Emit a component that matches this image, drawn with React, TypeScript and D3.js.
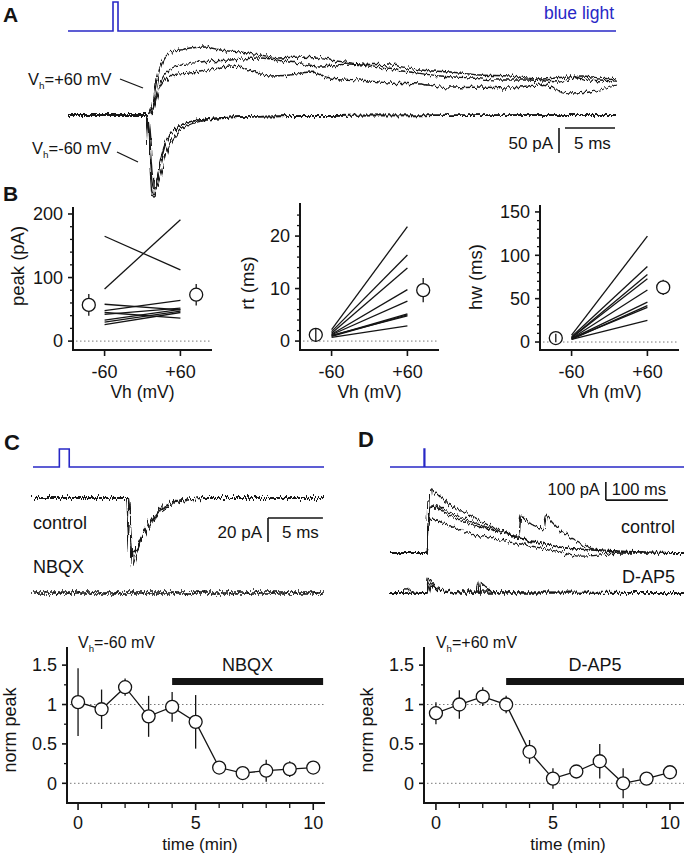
import React from 'react';
import * as d3 from 'd3';

const FONT = "'Liberation Sans', Arial, Helvetica, sans-serif";
const BLUE = '#2828c6';
const INK = '#141414';

// ================= DATA =================
// ---- Panel A: light pulse (ms, on/off) and EPSCs (pA)
const lightA_t = [0, 4.5, 5.0, 54.8];
const lightA_on = [0, 1, 0, 0];

const aNeg1_t = [0, 7.8, 8.0, 8.2, 8.4, 8.55, 8.8, 9.2, 9.6, 10, 10.5, 11, 12, 13.5, 16, 20, 30, 54.8];
const aNeg1_i = [0, 0, -30, -100, -160, -164, -140, -95, -64, -45, -32, -24, -15, -9, -5, -3, -1, 0];
const aNeg2_t = [0, 7.9, 8.1, 8.3, 8.5, 8.7, 9.0, 9.4, 9.8, 10.2, 10.7, 11.2, 12.2, 13.7, 16, 20, 30, 54.8];
const aNeg2_i = [0, 0, -25, -85, -135, -150, -138, -110, -80, -58, -42, -30, -19, -11, -6, -3, -1, 0];
const aNeg3_t = [0, 7.85, 8.05, 8.25, 8.45, 8.6, 8.85, 9.3, 9.7, 10.1, 10.6, 11.1, 12.1, 13.6, 16, 20, 30, 54.8];
const aNeg3_i = [0, 0, -28, -95, -150, -158, -135, -92, -62, -44, -31, -23, -14, -9, -5, -3, -1, 0];

const aPos1_t = [0, 7.9, 8.4, 8.9, 9.5, 10.2, 11.2, 12.2, 13.7, 15.2, 17.2, 19.2, 21.2, 23.2, 26.2, 29.2, 32.2, 35.2, 38.2, 41.2, 44.2, 47.2, 50.2, 52.2, 54.8];
const aPos1_i = [0, 0, 14, 70, 110, 126, 130, 134, 136, 130, 126, 120, 114, 116, 110, 102, 100, 90, 86, 80, 78, 72, 76, 70, 66];
const aPos2_t = [0, 7.9, 8.4, 8.9, 9.5, 10.5, 13.2, 16.2, 19.2, 22.2, 25.2, 28.2, 31.2, 34.2, 37.2, 40.2, 43.2, 46.2, 49.2, 51.2, 53.2, 54.8];
const aPos2_i = [0, 0, 6, 44, 76, 94, 106, 110, 114, 106, 96, 102, 94, 86, 78, 74, 70, 70, 66, 78, 74, 70];
const aPos3_t = [0, 7.9, 8.4, 9.2, 10.5, 13.2, 16.2, 18.2, 20.2, 22.2, 24.2, 26.2, 29.2, 32.2, 35.2, 38.2, 41.2, 44.2, 47.2, 50.2, 52.2, 54.8];
const aPos3_i = [0, 0, 4, 56, 80, 86, 98, 90, 78, 80, 86, 74, 70, 64, 62, 54, 56, 54, 60, 44, 46, 58];

const scaleA_ms = 5;
const scaleA_pA = 50;

// ---- Panel B: paired values at Vh -60 / +60 mV
const bVh = [-60, 60];
const bVhLabels = ['-60', '+60'];
const peakNeg60 = [165, 82, 58, 48, 45, 42, 33, 30, 26];
const peakPos60 = [112, 191, 49, 64, 36, 52, 50, 47, 45];
const peakMean = [57, 73];
const peakSem = [17, 17];
const rtNeg60 = [2.2, 1.8, 1.5, 1.3, 1.2, 1.0, 0.9, 1.1, 0.7];
const rtPos60 = [21.8, 16.4, 13.9, 9.8, 7.6, 5.2, 5.0, 4.8, 2.9];
const rtMean = [1.2, 9.7];
const rtSem = [1.3, 2.3];
const hwNeg60 = [8, 6, 5, 5, 4, 4, 3, 4, 3];
const hwPos60 = [122, 87, 78, 73, 60, 46, 42, 40, 25];
const hwMean = [4.6, 63];
const hwSem = [5, 8.7];
const meanVhOffset = [-85, 85];

// ---- Panel C: traces (ms, pA)
const lightC_t = [0, 2.4, 3.3, 26.5];
const lightC_on = [0, 1, 0, 0];
const cCtrl1_t = [0, 8.6, 8.8, 9.0, 9.2, 9.5, 10.0, 10.6, 11.2, 12.1, 13.0, 14.0, 16, 26.5];
const cCtrl1_i = [0, 0, -35, -57, -52, -44, -33, -24, -15, -8, -4, -2, 0, 0];
const cCtrl2_t = [0, 8.65, 8.85, 9.05, 9.3, 9.6, 10.1, 10.7, 11.3, 12.2, 13.1, 14.1, 16, 26.5];
const cCtrl2_i = [0, 0, -30, -50, -48, -40, -30, -20, -12, -6, -3, -1, 0, 0];
const cCtrl3_t = [0, 8.7, 8.9, 9.1, 9.35, 9.7, 10.2, 10.8, 11.4, 12.3, 13.2, 14.2, 16, 26.5];
const cCtrl3_i = [0, 0, -25, -45, -44, -38, -28, -18, -10, -5, -2, -1, 0, 0];
const cNbqx_t = [0, 26.5];
const cNbqx_i = [0, 0];
const scaleC_ms = 5;
const scaleC_pA = 20;

// ---- Panel D: traces (ms, pA)
const lightD_t = [0, 55, 56, 474];
const lightD_on = [0, 1, 0, 0];
const dCtrl1_t = [0, 60, 63, 66, 81, 111, 137, 165, 194, 218, 250, 273, 326, 371, 474];
const dCtrl1_i = [0, 0, 294, 350, 311, 239, 194, 144, 106, 72, 50, 33, 17, 6, 0];
const dCtrl2_t = [0, 60, 63, 68, 89, 113, 145, 177, 210, 242, 274, 323, 474];
const dCtrl2_i = [0, 0, 239, 267, 239, 200, 156, 117, 83, 56, 33, 17, 0];
const dCtrl3_t = [0, 60, 63, 68, 89, 113, 145, 177, 208, 211, 218, 234, 248, 252, 261, 274, 289, 310, 339, 474];
const dCtrl3_i = [0, 0, 228, 261, 222, 183, 144, 117, 94, 211, 183, 150, 128, 206, 172, 128, 89, 44, 17, 0];
const dCtrl4_t = [0, 60, 63, 68, 89, 113, 145, 177, 210, 242, 274, 306, 339, 371, 474];
const dCtrl4_i = [0, 0, 156, 189, 161, 128, 94, 72, 50, 28, 6, -17, -11, 0, 0];
const dAp1_t = [0, 23, 24, 35, 60, 61, 68, 81, 105, 474];
const dAp1_i = [0, 0, 33, 6, 0, 83, 56, 28, 6, 0];
const dAp2_t = [0, 60, 61, 73, 97, 142, 144, 153, 169, 474];
const dAp2_i = [0, 0, 56, 33, 6, 0, 56, 33, 6, 0];
const dAp3_t = [0, 60, 63, 81, 113, 474];
const dAp3_i = [0, 0, 39, 17, 0, 0];
const scaleD_ms = 100;
const scaleD_pA = 100;

// ---- Time courses (min, normalized peak)
const timeMin = [0, 1, 2, 3, 4, 5, 6, 7, 8, 9, 10];
const nbqxMean = [1.03, 0.94, 1.22, 0.85, 0.97, 0.78, 0.2, 0.13, 0.16, 0.18, 0.2];
const nbqxErr = [0.43, 0.25, 0.11, 0.26, 0.19, 0.34, 0.05, 0.05, 0.14, 0.1, 0.05];
const dap5Mean = [0.89, 1.0, 1.1, 1.0, 0.4, 0.06, 0.15, 0.28, 0.0, 0.06, 0.14];
const dap5Err = [0.14, 0.18, 0.12, 0.11, 0.15, 0.13, 0.08, 0.22, 0.19, 0.08, 0.05];
const nbqxPeriod = [4, 10.42];
const dap5Period = [3, 10.7];
const normTicks = [0, 0.5, 1, 1.5];
const normTickLabels = ['0', '0.5', '1', '1.5'];
const normMinor = [0.25, 0.75, 1.25];
const timeTicks = [0, 5, 10];
const timeMinor = [1, 2, 3, 4, 6, 7, 8, 9];

// ================= HELPERS =================
function tracePath(ts: number[], vs: number[], xs: any, ys: any, curve: any = d3.curveMonotoneX) {
  return (
    d3
      .line<number>()
      .x((t) => xs(t))
      .y((_, i) => ys(vs[i]))
      .curve(curve)(ts) || ''
  );
}

function Vh({ x, y, sign, size = 16 }: { x: number; y: number; sign: string; size?: number }) {
  return (
    <text x={x} y={y} fontSize={size} fill={INK}>
      V
      <tspan fontSize={size * 0.6} dy={4}>
        h
      </tspan>
      <tspan dy={-4}>{'=' + sign + '60 mV'}</tspan>
    </text>
  );
}

function Traces({ list, xs, ys, filter, width = 1 }: any) {
  return (
    <g filter={filter} stroke={INK} fill="none" strokeWidth={width} strokeLinejoin="round">
      {list.map((tr: any, i: number) => (
        <path key={i} d={tracePath(tr[0], tr[1], xs, ys)} />
      ))}
    </g>
  );
}

// ================= PANEL A =================
function PanelA() {
  const x = d3.scaleLinear().domain([0, 54.8]).range([68, 616]);
  const y = d3.scaleLinear().domain([0, 100]).range([115, 65]);
  const yl = d3.scaleLinear().domain([0, 1]).range([31, 2]);
  const pos = [
    [aPos1_t, aPos1_i],
    [aPos2_t, aPos2_i],
    [aPos3_t, aPos3_i],
  ];
  const neg = [
    [aNeg1_t, aNeg1_i],
    [aNeg2_t, aNeg2_i],
    [aNeg3_t, aNeg3_i],
  ];
  const barT = 49.1;
  const barI = -26;
  return (
    <g>
      <text x={3} y={22} fontSize={21} fontWeight="bold" fill={INK}>A</text>
      <path d={tracePath(lightA_t, lightA_on, x, yl, d3.curveStepAfter)} stroke={BLUE} strokeWidth={1.6} fill="none" />
      <text x={614} y={19} fontSize={17.5} textAnchor="end" fill={BLUE}>blue light</text>
      <Traces list={pos} xs={x} ys={y} filter="url(#noiseA)" width={1.3} />
      <Traces list={neg} xs={x} ys={y} filter="url(#noiseA2)" width={1.3} />
      <Vh x={28} y={85} sign="+" size={16.5} />
      <Vh x={32} y={154} sign="-" size={16.5} />
      <line x1={120} y1={79} x2={143} y2={88} stroke={INK} strokeWidth={1.3} />
      <line x1={117} y1={152} x2={138} y2={162} stroke={INK} strokeWidth={1.3} />
      {/* scale bar */}
      <line x1={x(barT)} x2={x(barT)} y1={y(barI)} y2={y(barI - scaleA_pA)} stroke={INK} strokeWidth={1.6} />
      <line x1={x(barT + 0.6)} x2={x(barT + 0.6 + scaleA_ms)} y1={y(barI)} y2={y(barI)} stroke={INK} strokeWidth={1.6} />
      <text x={x(barT) - 6} y={149} fontSize={17} textAnchor="end" fill={INK}>{scaleA_pA} pA</text>
      <text x={x(barT) + 15} y={149} fontSize={17} fill={INK}>{scaleA_ms} ms</text>
    </g>
  );
}

// ================= PANEL B =================
function BPanel({ cfg }: any) {
  const x = d3.scaleLinear().domain([-110, 110]).range([cfg.left, cfg.left + 139]);
  const y = d3.scaleLinear().domain(cfg.yDomain).range([350, cfg.top]);
  const right = cfg.left + 139;
  return (
    <g>
      <line x1={cfg.left + 3} x2={right} y1={y(0)} y2={y(0)} stroke="#777" strokeWidth={1} strokeDasharray="1.5,2.5" />
      {cfg.neg.map((v: number, i: number) => (
        <line key={i} x1={x(bVh[0])} y1={y(v)} x2={x(bVh[1])} y2={y(cfg.pos[i])} stroke={INK} strokeWidth={1.3} />
      ))}
      {cfg.mean.map((m: number, i: number) => {
        const cx = x(meanVhOffset[i]);
        const bar = (
          <line x1={cx} x2={cx} y1={y(m - cfg.sem[i])} y2={y(m + cfg.sem[i])} stroke={INK} strokeWidth={1.3} />
        );
        return (
          <g key={i}>
            {!cfg.barOnTop[i] && bar}
            <circle cx={cx} cy={y(m)} r={6.5} fill="#fff" stroke={INK} strokeWidth={1.3} />
            {cfg.barOnTop[i] && bar}
          </g>
        );
      })}
      {/* axes */}
      <line x1={cfg.left} x2={cfg.left} y1={351} y2={cfg.top} stroke={INK} strokeWidth={2} />
      <line x1={cfg.left - 1} x2={right} y1={350} y2={350} stroke={INK} strokeWidth={2} />
      {cfg.major.map((v: number) => (
        <g key={'M' + v}>
          <line x1={cfg.left - 5} x2={cfg.left} y1={y(v)} y2={y(v)} stroke={INK} strokeWidth={1.6} />
          <text x={cfg.left - 10} y={y(v)} dy="0.35em" fontSize={18} textAnchor="end" fill={INK}>{v}</text>
        </g>
      ))}
      {cfg.minor.map((v: number) => (
        <line key={'m' + v} x1={cfg.left - 3} x2={cfg.left} y1={y(v)} y2={y(v)} stroke={INK} strokeWidth={1.3} />
      ))}
      {bVh.map((v, i) => (
        <g key={'x' + v}>
          <line x1={x(v)} x2={x(v)} y1={350} y2={356} stroke={INK} strokeWidth={1.6} />
          <text x={x(v)} y={378} fontSize={18} textAnchor="middle" fill={INK}>{bVhLabels[i]}</text>
        </g>
      ))}
      <text x={(x(-60) + x(60)) / 2} y={398} fontSize={17.5} textAnchor="middle" fill={INK}>Vh (mV)</text>
      <text
        transform={`translate(${cfg.labelX},${cfg.labelY}) rotate(-90)`}
        fontSize={18.5}
        textAnchor="middle"
        dy="0.35em"
        fill={INK}
      >
        {cfg.label}
      </text>
    </g>
  );
}

function PanelB() {
  const cfgs = [
    {
      left: 73, top: 207, yDomain: [-14, 211], major: [0, 100, 200], minor: [20, 40, 60, 80, 120, 140, 160, 180],
      neg: peakNeg60, pos: peakPos60, mean: peakMean, sem: peakSem, label: 'peak (pA)', labelX: 18, labelY: 266,
      barOnTop: [false, false],
    },
    {
      left: 300, top: 203, yDomain: [-1.7, 26.3], major: [0, 10, 20], minor: [2, 4, 6, 8, 12, 14, 16, 18, 22, 24],
      neg: rtNeg60, pos: rtPos60, mean: rtMean, sem: rtSem, label: 'rt (ms)', labelX: 248, labelY: 283,
      barOnTop: [true, false],
    },
    {
      left: 540, top: 205, yDomain: [-9.2, 158], major: [0, 50, 100, 150], minor: [10, 20, 30, 40, 60, 70, 80, 90, 110, 120, 130, 140],
      neg: hwNeg60, pos: hwPos60, mean: hwMean, sem: hwSem, label: 'hw (ms)', labelX: 476, labelY: 277,
      barOnTop: [true, false],
    },
  ];
  return (
    <g>
      <text x={3} y={201} fontSize={21} fontWeight="bold" fill={INK}>B</text>
      {cfgs.map((c, i) => (
        <BPanel key={i} cfg={c} />
      ))}
    </g>
  );
}

// ================= PANEL C/D traces =================
function PanelCTraces() {
  const x = d3.scaleLinear().domain([0, 26.5]).range([33, 324]);
  const yl = d3.scaleLinear().domain([0, 1]).range([467, 449]);
  const yc = d3.scaleLinear().domain([0, -20]).range([498, 522]);
  const yn = d3.scaleLinear().domain([0, -20]).range([593, 617]);
  const ctrl = [
    [cCtrl1_t, cCtrl1_i],
    [cCtrl2_t, cCtrl2_i],
    [cCtrl3_t, cCtrl3_i],
  ];
  const barT = 21.4;
  const barI = -16.7;
  return (
    <g>
      <text x={4} y={450} fontSize={22} fontWeight="bold" fill={INK}>C</text>
      <path d={tracePath(lightC_t, lightC_on, x, yl, d3.curveStepAfter)} stroke={BLUE} strokeWidth={1.6} fill="none" />
      <Traces list={ctrl} xs={x} ys={yc} filter="url(#noiseC)" width={1.3} />
      <Traces list={[[cNbqx_t, cNbqx_i]]} xs={x} ys={yn} filter="url(#noiseC2)" width={1.3} />
      <Traces list={[[cNbqx_t, cNbqx_i]]} xs={x} ys={yn} filter="url(#noiseC3)" width={1.3} />
      <text x={33} y={529} fontSize={18} fill={INK}>control</text>
      <text x={33} y={573} fontSize={18} fill={INK}>NBQX</text>
      <line x1={x(barT)} x2={x(barT)} y1={yc(barI)} y2={yc(barI - scaleC_pA)} stroke={INK} strokeWidth={1.6} />
      <line x1={x(barT)} x2={x(barT + scaleC_ms)} y1={yc(barI)} y2={yc(barI)} stroke={INK} strokeWidth={1.6} />
      <text x={x(barT) - 6} y={538} fontSize={17} textAnchor="end" fill={INK}>{scaleC_pA} pA</text>
      <text x={x(barT) + 14} y={538} fontSize={17} fill={INK}>{scaleC_ms} ms</text>
    </g>
  );
}

function PanelDTraces() {
  const x = d3.scaleLinear().domain([0, 474]).range([390, 684]);
  const yl = d3.scaleLinear().domain([0, 1]).range([467, 449]);
  const yc = d3.scaleLinear().domain([0, 100]).range([553, 535]);
  const ya = d3.scaleLinear().domain([0, 100]).range([593, 575]);
  const ctrl = [
    [dCtrl1_t, dCtrl1_i],
    [dCtrl2_t, dCtrl2_i],
    [dCtrl3_t, dCtrl3_i],
    [dCtrl4_t, dCtrl4_i],
  ];
  const ap = [
    [dAp1_t, dAp1_i],
    [dAp2_t, dAp2_i],
    [dAp3_t, dAp3_i],
  ];
  const barT = 348;
  const barI = 294;
  return (
    <g>
      <text x={358} y={447} fontSize={22} fontWeight="bold" fill={INK}>D</text>
      <path d={tracePath(lightD_t, lightD_on, x, yl, d3.curveStepAfter)} stroke={BLUE} strokeWidth={1.6} fill="none" />
      <Traces list={ctrl} xs={x} ys={yc} filter="url(#noiseD)" width={1.3} />
      <Traces list={ap} xs={x} ys={ya} filter="url(#noiseD2)" width={1.3} />
      <text x={675} y={533} fontSize={18} textAnchor="end" fill={INK}>control</text>
      <text x={675} y={583} fontSize={18} textAnchor="end" fill={INK}>D-AP5</text>
      <line x1={x(barT)} x2={x(barT)} y1={yc(barI)} y2={yc(barI + scaleD_pA)} stroke={INK} strokeWidth={1.6} />
      <line x1={x(barT)} x2={x(barT + scaleD_ms)} y1={yc(barI)} y2={yc(barI)} stroke={INK} strokeWidth={1.6} />
      <text x={x(barT) - 6} y={495} fontSize={16.5} textAnchor="end" fill={INK}>{scaleD_pA} pA</text>
      <text x={x(barT) + 6} y={495} fontSize={16.5} fill={INK}>{scaleD_ms} ms</text>
    </g>
  );
}

// ================= TIME COURSE =================
function TimePanel({ left, right, domain, mean, err, period, drug, sign, ylabelX, xlabelX }: any) {
  const x = d3.scaleLinear().domain(domain).range([left, right]);
  const y = d3.scaleLinear().domain([-0.25, 1.73]).range([803, 647]);
  const line = d3
    .line<number>()
    .x((t) => x(t))
    .y((_, i) => y(mean[i]));
  return (
    <g>
      <line x1={left + 3} x2={right} y1={y(1)} y2={y(1)} stroke="#777" strokeWidth={1} strokeDasharray="1.5,2.5" />
      <line x1={left + 3} x2={right} y1={y(0)} y2={y(0)} stroke="#777" strokeWidth={1} strokeDasharray="1.5,2.5" />
      <rect x={x(period[0])} width={x(period[1]) - x(period[0])} y={y(1.292) - 3.5} height={7} fill={INK} />
      <text x={(x(period[0]) + Math.min(x(period[1]), 684)) / 2} y={671} fontSize={18} textAnchor="middle" fill={INK}>
        {drug}
      </text>
      <Vh x={x(0)} y={648} sign={sign} size={16} />
      {timeMin.map((t, i) => (
        <line key={'e' + i} x1={x(t)} x2={x(t)} y1={y(mean[i] - err[i])} y2={y(mean[i] + err[i])} stroke={INK} strokeWidth={1.3} />
      ))}
      <path d={line(timeMin) || ''} stroke={INK} strokeWidth={1.3} fill="none" />
      {timeMin.map((t, i) => (
        <circle key={'c' + i} cx={x(t)} cy={y(mean[i])} r={6.5} fill="#fff" stroke={INK} strokeWidth={1.3} />
      ))}
      {/* axes */}
      <line x1={left} x2={left} y1={804} y2={647} stroke={INK} strokeWidth={2} />
      <line x1={left - 1} x2={right} y1={803} y2={803} stroke={INK} strokeWidth={2} />
      {normTicks.map((v, i) => (
        <g key={'y' + v}>
          <line x1={left - 5} x2={left} y1={y(v)} y2={y(v)} stroke={INK} strokeWidth={1.6} />
          <text x={left - 10} y={y(v)} dy="0.35em" fontSize={18} textAnchor="end" fill={INK}>
            {normTickLabels[i]}
          </text>
        </g>
      ))}
      {normMinor.map((v) => (
        <line key={'ym' + v} x1={left - 3} x2={left} y1={y(v)} y2={y(v)} stroke={INK} strokeWidth={1.3} />
      ))}
      {timeTicks.map((v) => (
        <g key={'x' + v}>
          <line x1={x(v)} x2={x(v)} y1={803} y2={810} stroke={INK} strokeWidth={1.6} />
          <text x={x(v)} y={829} fontSize={18} textAnchor="middle" fill={INK}>{v}</text>
        </g>
      ))}
      {timeMinor.map((v) => (
        <line key={'xm' + v} x1={x(v)} x2={x(v)} y1={803} y2={808} stroke={INK} strokeWidth={1.3} />
      ))}
      <text x={xlabelX} y={850} fontSize={17} textAnchor="middle" fill={INK}>time (min)</text>
      <text transform={`translate(${ylabelX},730) rotate(-90)`} fontSize={18} textAnchor="middle" dy="0.35em" fill={INK}>
        norm peak
      </text>
    </g>
  );
}

function NoiseFilter({ id, freq, scale, seed }: { id: string; freq: string; scale: number; seed: number }) {
  return (
    <filter id={id} x="0" y="0" width="684" height="853" filterUnits="userSpaceOnUse">
      <feTurbulence type="fractalNoise" baseFrequency={freq} numOctaves={2} seed={seed} result="t" />
      <feDisplacementMap in="SourceGraphic" in2="t" scale={scale} xChannelSelector="R" yChannelSelector="G" />
    </filter>
  );
}

export default function App() {
  return (
    <div style={{ position: 'absolute', left: 0, top: 0, width: 684, height: 853, background: '#fff' }}>
      <svg width={684} height={853} style={{ display: 'block' }} fontFamily={FONT}>
        <defs>
          <NoiseFilter id="noiseA" freq="0.5 0.04" scale={7} seed={3} />
          <NoiseFilter id="noiseA2" freq="0.5 0.04" scale={6} seed={9} />
          <NoiseFilter id="noiseC" freq="0.55 0.04" scale={11} seed={7} />
          <NoiseFilter id="noiseC2" freq="0.55 0.04" scale={11} seed={11} />
          <NoiseFilter id="noiseC3" freq="0.55 0.04" scale={10} seed={17} />
          <NoiseFilter id="noiseD" freq="0.5 0.04" scale={8} seed={5} />
          <NoiseFilter id="noiseD2" freq="0.5 0.04" scale={8} seed={13} />
        </defs>
        <rect width={684} height={853} fill="#fff" />
        <PanelA />
        <PanelB />
        <PanelCTraces />
        <PanelDTraces />
        <TimePanel
          left={67}
          right={325}
          domain={[-0.47, 10.5]}
          mean={nbqxMean}
          err={nbqxErr}
          period={nbqxPeriod}
          drug="NBQX"
          sign="-"
          ylabelX={10}
          xlabelX={200}
        />
        <TimePanel
          left={424}
          right={684}
          domain={[-0.51, 10.6]}
          mean={dap5Mean}
          err={dap5Err}
          period={dap5Period}
          drug="D-AP5"
          sign="+"
          ylabelX={367}
          xlabelX={568}
        />
      </svg>
    </div>
  );
}
